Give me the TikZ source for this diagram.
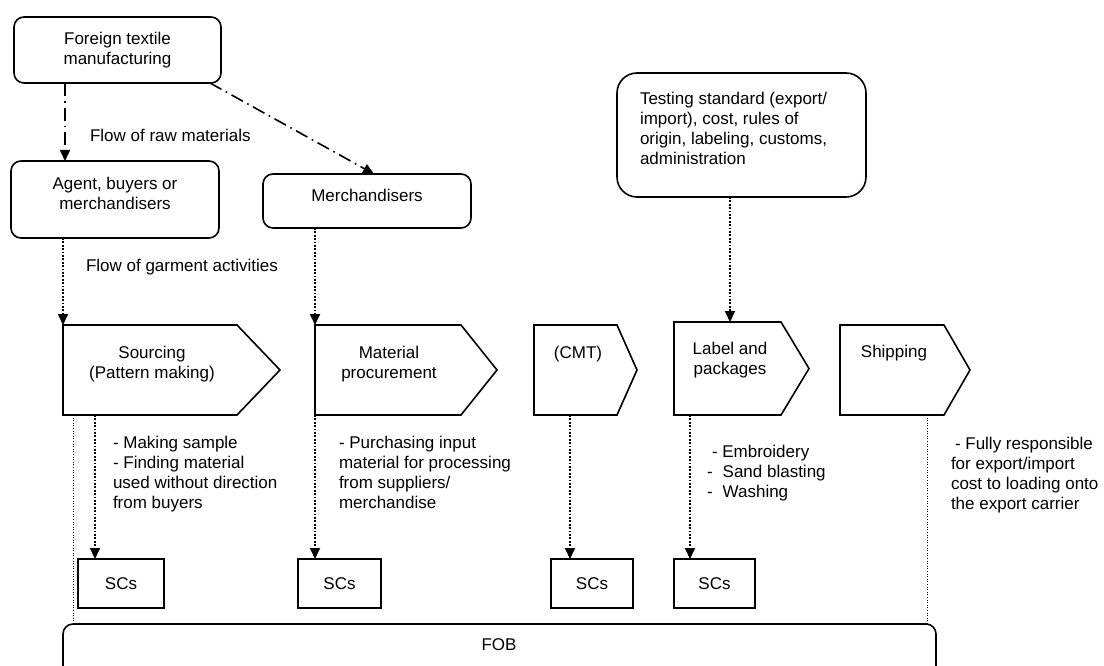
\documentclass[tikz,border=0pt]{standalone}
\usepackage{fontspec}
\setmainfont{Liberation Sans}
\usetikzlibrary{arrows.meta,calc}
\begin{document}
\begin{tikzpicture}[x=1pt,y=-1pt,
  every node/.style={font=\fontsize{17}{20}\selectfont, inner sep=0pt, outer sep=0pt},
  rbox/.style={draw, line width=1.6pt, rounded corners=10pt, align=center, anchor=north west},
  scbox/.style={draw, line width=1.6pt, align=center, anchor=north west, minimum width=#1, minimum height=49pt},
  body/.style={anchor=north west, minimum height=90pt, minimum width=#1},
  chev/.style={draw, line width=1.6pt, line join=miter},
  txt/.style={align=left, anchor=north west},
  ctxt/.style={align=center, anchor=north},
  arr/.style={-{Triangle[length=11pt,width=10pt]}},
  dashdot/.style={line width=1.6pt, dash pattern=on 13pt off 5pt on 1.6pt off 5pt},
  dots/.style={line width=1.8pt, dash pattern=on 1.8pt off 1.6pt},
  thindots/.style={line width=0.9pt, dash pattern=on 1pt off 1.6pt},
]
\useasboundingbox (0,0) rectangle (1104,666);
\clip (0,0) rectangle (1104,666);

% top boxes
\node[rbox, minimum width=207pt, minimum height=66pt] (foreign) at (14,17) {Foreign textile\\manufacturing};
\node[rbox, minimum width=208pt, minimum height=77pt] (agent) at (11,161) {};
\node[align=center] (agentt) at (115,193) {Agent, buyers or\\merchandisers};
\node[rbox, minimum width=208pt, minimum height=54pt] (merch) at (263,174) {};
\node (mercht) at (367,195) {Merchandisers};
\node[rbox, rounded corners=20pt, minimum width=249pt, minimum height=124pt] (test) at (617,73) {};
\node[txt] (testt) at (640,92.5) {Testing standard (export/\\import), cost, rules of\\origin, labeling, customs,\\administration};

% labels of flows
\node[txt] (raw) at (90,129.5) {Flow of raw materials};
\node[txt] (garm) at (86,259.5) {Flow of garment activities};

% chevrons
\node[body=174pt] (src) at (63,325) {};
\draw[chev] (src.north west) -- (src.north east) -- ($(src.east)+(43,0)$) -- (src.south east) -- (src.south west) -- cycle;
\node[ctxt] (srct) at (152,346.5) {Sourcing\\(Pattern making)};

\node[body=146pt] (mat) at (315,325) {};
\draw[chev] (mat.north west) -- (mat.north east) -- ($(mat.east)+(36,0)$) -- (mat.south east) -- (mat.south west) -- cycle;
\node[ctxt] (matt) at (389,346.5) {Material\\procurement};

\node[body=83pt] (cmt) at (534,325) {};
\draw[chev] (cmt.north west) -- (cmt.north east) -- ($(cmt.east)+(20,0)$) -- (cmt.south east) -- (cmt.south west) -- cycle;
\node[ctxt] (cmtt) at (578,346.5) {(CMT)};

\node[body=107pt, minimum height=93pt] (lab) at (674,322) {};
\draw[chev] (lab.north west) -- (lab.north east) -- ($(lab.east)+(28,0)$) -- (lab.south east) -- (lab.south west) -- cycle;
\node[ctxt] (labt) at (730,342.5) {Label and\\packages};

\node[body=104pt] (shp) at (840,325) {};
\draw[chev] (shp.north west) -- (shp.north east) -- ($(shp.east)+(26,0)$) -- (shp.south east) -- (shp.south west) -- cycle;
\node[ctxt] (shpt) at (894,345.5) {Shipping};

% SC boxes
\node[scbox=86pt] (sc1) at (78,559) {SCs};
\node[scbox=83pt] (sc2) at (298,559) {SCs};
\node[scbox=82pt] (sc3) at (551,559) {SCs};
\node[scbox=81pt] (sc4) at (674,559) {SCs};

% FOB
\node[rbox, minimum width=873pt, minimum height=90pt] (fob) at (63,624) {};
\node (fobt) at (499,645) {FOB};

% notes
\node[txt] (n1) at (113,436.5) {- Making sample\\- Finding material\\used without direction\\from buyers};
\node[txt] (n2) at (339,436.5) {- Purchasing input\\material for processing\\from suppliers/\\merchandise};
\node[txt] (n3) at (707,445.5) {\hspace*{5pt}- Embroidery\\-\hspace*{10pt}Sand blasting\\-\hspace*{10pt}Washing};
\node[txt] (n4) at (951,437.5) {\hspace*{4pt}- Fully responsible\\for export/import\\cost to loading onto\\the export carrier};

% connectors: raw materials
\draw[dashdot, arr] ($(foreign.south west)+(51,0)$) -- ($(agent.north west)+(54,0)$);
\draw[dashdot, arr] ($(foreign.south east)+(-11,0)$) -- ($(merch.north west)+(111,0)$);

% garment activities
\draw[dots, arr] (agent.south -| src.north west) -- (src.north west);
\draw[dots, arr] (merch.south -| mat.north west) -- (mat.north west);
\draw[dots, arr] (test.south -| labt.north) -- (lab.north -| labt.north);

% to SCs
\coordinate (a1) at ($(sc1.north west)+(17,0)$);
\coordinate (a3) at ($(sc3.north west)+(19,0)$);
\coordinate (a4) at ($(sc4.north west)+(16,0)$);
\draw[dots, arr] (src.south -| a1) -- (a1);
\draw[dots, arr] (mat.south west) -- (sc2.north -| mat.south west);
\draw[dots, arr] (cmt.south -| a3) -- (a3);
\draw[dots, arr] (lab.south -| a4) -- (a4);

% FOB span lines
\coordinate (f1) at ($(src.south west)+(10,0)$);
\coordinate (f2) at ($(shp.south west)+(87,0)$);
\draw[thindots] (f1) -- (fob.north -| f1);
\draw[thindots] (f2) -- (fob.north -| f2);
\end{tikzpicture}
\end{document}
